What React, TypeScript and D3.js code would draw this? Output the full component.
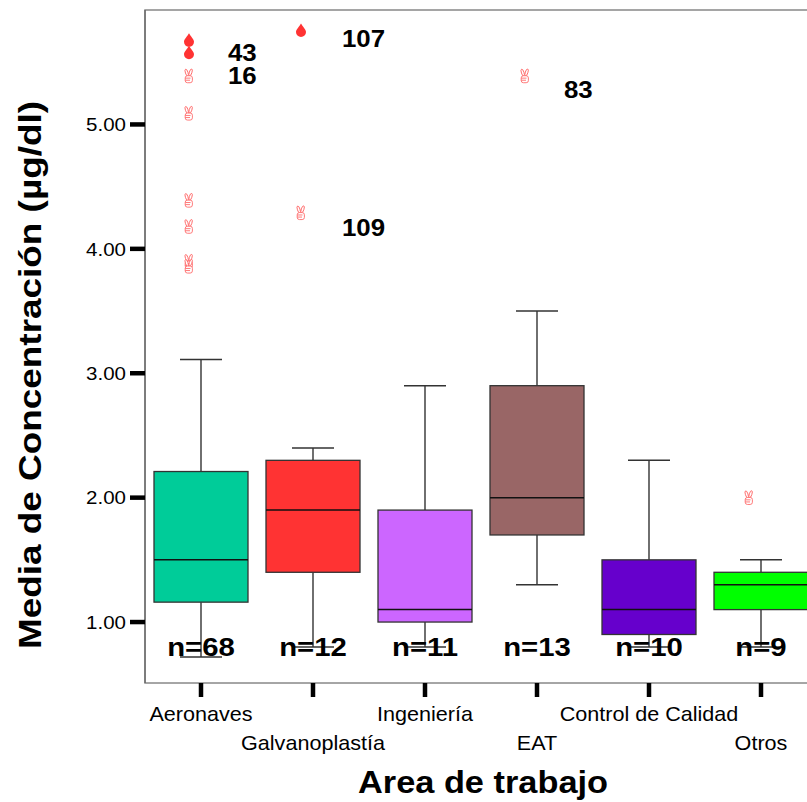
import React from "react";
import * as d3 from "d3";

const categories = ["Aeronaves", "Galvanoplastía", "Ingeniería", "EAT", "Control de Calidad", "Otros"];
const counts = [68, 12, 11, 13, 10, 9];
const lowerWhisker = [0.72, 0.8, 0.8, 1.3, 0.8, 0.8];
const q1 = [1.16, 1.4, 1.0, 1.7, 0.9, 1.1];
const median = [1.5, 1.9, 1.1, 2.0, 1.1, 1.3];
const q3 = [2.21, 2.3, 1.9, 2.9, 1.5, 1.4];
const upperWhisker = [3.11, 2.4, 2.9, 3.5, 2.3, 1.5];
const boxColors = ["#00cc99", "#ff3333", "#cc66ff", "#996666", "#6600cc", "#00ff00"];

// outliers: [category index, value]
const outlierCat = [0, 0, 0, 0, 0, 0, 1, 3, 5];
const outlierVal = [5.39, 5.09, 4.39, 4.18, 3.9, 3.86, 4.29, 5.39, 2.0];
// extremes
const extremeCat = [0, 0, 1];
const extremeVal = [5.68, 5.58, 5.76];
// case labels
const labelCat = [0, 0, 1, 1, 3];
const labelVal = [5.58, 5.39, 5.69, 4.17, 5.28];
const labelText = ["43", "16", "107", "109", "83"];

const yTicks = [1, 2, 3, 4, 5];

function SText({ x, y, sx = 1, children, ...rest }: any) {
  return (
    <g transform={`translate(${x},${y}) scale(${sx},1)`}>
      <text x={0} y={0} {...rest}>{children}</text>
    </g>
  );
}

function Hand({ x, y }: { x: number; y: number }) {
  const c = "#ff6b6b";
  return (
    <g transform={`translate(${x},${y})`} fill="#fff" stroke={c} strokeWidth={0.9}>
      <ellipse cx={-2.3} cy={-3.3} rx={1.3} ry={3.6} transform="rotate(-18,-2.3,-3.3)" />
      <ellipse cx={1.6} cy={-3.5} rx={1.3} ry={3.6} transform="rotate(18,1.6,-3.5)" />
      <rect x={-3.8} y={-0.2} width={7.2} height={7} rx={2.2} />
      <path d="M-3.8,2.2 L1.5,2.2 M-3.8,4.3 L1,4.3" fill="none" />
    </g>
  );
}

export default function App() {
  const W = 807, H = 802;
  const left = 145, right = 817, top = 10, bottom = 683;
  const y = d3.scaleLinear().domain([0.51, 5.92]).range([bottom, top]);
  const x = d3.scalePoint<string>().domain(categories).range([201, 761]);
  const boxW = 94, capW = 42, outOff = -12;
  const dropPath = "M0,-6.5 C1.5,-3.5 5,-0.5 5,2 A5,5 0 0 1 -5,2 C-5,-0.5 -1.5,-3.5 0,-6.5 Z";
  const font = "Arial, 'Liberation Sans', Helvetica, sans-serif";

  return (
    <svg width={W} height={H} style={{ position: "absolute", left: 0, top: 0, background: "#fff" }} fontFamily={font}>
      <rect x={0} y={0} width={W} height={H} fill="#fff" />
      {/* frame */}
      <rect x={left} y={top} width={right - left} height={bottom - top} fill="none" stroke="#888" strokeWidth={1.5} />
      <line x1={left} x2={left} y1={top} y2={bottom} stroke="#555" strokeWidth={1} />

      {/* y ticks */}
      {yTicks.map((t) => (
        <g key={t}>
          <line x1={130} x2={145} y1={y(t)} y2={y(t)} stroke="#000" strokeWidth={4.5} />
          <SText x={126} y={y(t)} sx={1.08} dy="0.36em" textAnchor="end" fontSize={19} fill="#000">
            {d3.format(".2f")(t)}
          </SText>
        </g>
      ))}

      {/* x ticks and labels */}
      {categories.map((c, i) => (
        <g key={c}>
          <line x1={x(c)} x2={x(c)} y1={bottom} y2={697} stroke="#000" strokeWidth={4.5} />
          <SText x={x(c)} y={i % 2 === 0 ? 721 : 750} sx={1.08} textAnchor="middle" fontSize={20} fill="#000">
            {c}
          </SText>
        </g>
      ))}

      {/* boxes */}
      {categories.map((c, i) => {
        const cx = x(c) as number;
        return (
          <g key={c}>
            <line x1={cx} x2={cx} y1={y(upperWhisker[i])} y2={y(q3[i])} stroke="#222" strokeWidth={1.3} />
            <line x1={cx} x2={cx} y1={y(q1[i])} y2={y(lowerWhisker[i])} stroke="#222" strokeWidth={1.3} />
            <line x1={cx - capW / 2} x2={cx + capW / 2} y1={y(upperWhisker[i])} y2={y(upperWhisker[i])} stroke="#333" strokeWidth={1.5} />
            <line x1={cx - capW / 2} x2={cx + capW / 2} y1={y(lowerWhisker[i])} y2={y(lowerWhisker[i])} stroke="#333" strokeWidth={1.5} />
            <rect x={cx - boxW / 2} y={y(q3[i])} width={boxW} height={y(q1[i]) - y(q3[i])} fill={boxColors[i]} stroke="#333" strokeWidth={1.3} />
            <line x1={cx - boxW / 2} x2={cx + boxW / 2} y1={y(median[i])} y2={y(median[i])} stroke="#111" strokeWidth={1.5} />
          </g>
        );
      })}

      {/* n labels */}
      {categories.map((c, i) => (
        <SText key={c} x={x(c)} y={656} sx={1.15} textAnchor="middle" fontSize={25.5} fontWeight="bold" fill="#000">
          {`n=${counts[i]}`}
        </SText>
      ))}

      {/* outliers */}
      {outlierVal.map((v, i) => (
        <Hand key={i} x={(x(categories[outlierCat[i]]) as number) + outOff} y={y(v)} />
      ))}
      {extremeVal.map((v, i) => (
        <path key={i} d={dropPath} transform={`translate(${(x(categories[extremeCat[i]]) as number) + outOff},${y(v)})`} fill="#ff3333" />
      ))}
      {labelVal.map((v, i) => (
        <SText key={i} x={(x(categories[labelCat[i]]) as number) + (labelText[i].length === 3 ? 29 : 27)} y={y(v)} sx={1.1}
          dy="0.36em" fontSize={23.5} fontWeight="bold" fill="#000">
          {labelText[i]}
        </SText>
      ))}

      {/* axis titles */}
      <text transform={`translate(41,375) rotate(-90)`} textAnchor="middle" fontSize={31} fontWeight="bold"
        textLength={548} lengthAdjust="spacingAndGlyphs" fill="#000">
        Media de Concentración (µg/dl)
      </text>
      <text x={483} y={793} textAnchor="middle" fontSize={32} fontWeight="bold"
        textLength={250} lengthAdjust="spacingAndGlyphs" fill="#000">
        Area de trabajo
      </text>
    </svg>
  );
}
